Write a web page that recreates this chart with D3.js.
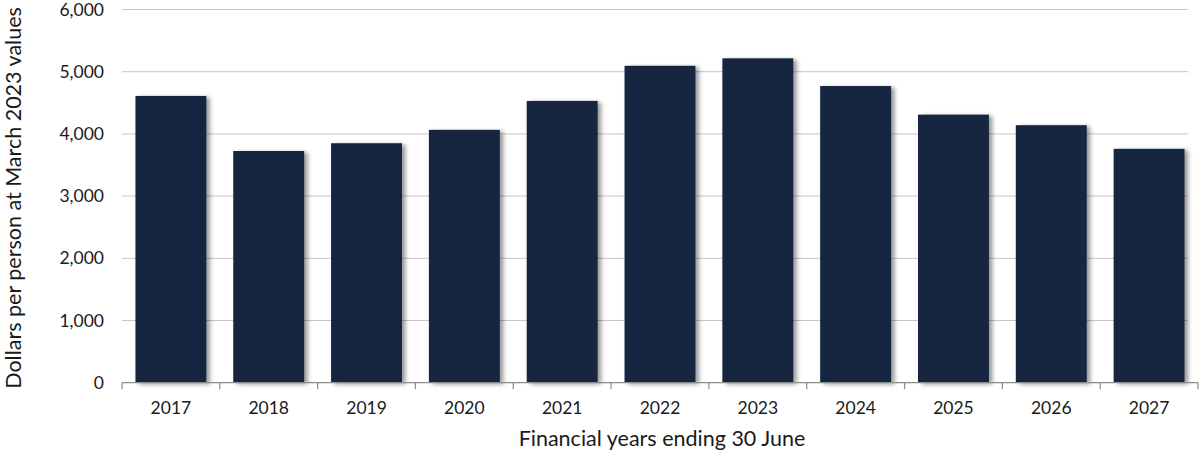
<!DOCTYPE html>
<html>
<head>
<meta charset="utf-8">
<script src="https://cdn.jsdelivr.net/npm/d3@7"></script>
<style>
  html, body { margin: 0; padding: 0; background: #fff; }
  svg { display: block; font-family: Lato, "Open Sans", sans-serif; }
</style>
</head>
<body>
<svg id="chart" width="1202" height="453"></svg>
<script>
// Spending per person, financial years ending 30 June
const years = ["2017", "2018", "2019", "2020", "2021", "2022", "2023", "2024", "2025", "2026", "2027"];
const dollarsPerPerson = [4610, 3725, 3850, 4065, 4530, 5095, 5215, 4770, 4310, 4140, 3760];
const yTicks = [0, 1000, 2000, 3000, 4000, 5000, 6000];

const svg = d3.select("#chart");
const W = 1202;
const x0 = 122, x1 = W - 4;
const yTop = 9.5, yBottom = 382.7;

const x = d3.scaleBand().domain(years).range([x0, x1]).paddingInner(0.275).paddingOuter(0.1375);
const y = d3.scaleLinear().domain([0, 6000]).range([yBottom, yTop]);

// soft shadow falling to the right of each bar
const defs = svg.append("defs");
const f = defs.append("filter").attr("id", "shadow")
  .attr("x", "-20%").attr("y", "-20%").attr("width", "150%").attr("height", "150%");
f.append("feDropShadow").attr("dx", 3.5).attr("dy", 1.5).attr("stdDeviation", 2)
  .attr("flood-color", "#000").attr("flood-opacity", 0.4);

// gridlines
svg.append("g").selectAll("line").data(yTicks.filter(d => d > 0)).join("line")
  .attr("x1", x0).attr("x2", 1188)
  .attr("y1", d => y(d)).attr("y2", d => y(d))
  .attr("stroke", "#c6c6c6").attr("stroke-width", 1);

// y tick labels
const yAxis = d3.axisLeft(y).tickValues(yTicks).tickFormat(d3.format(",")).tickSize(0).tickPadding(0);
const gy = svg.append("g").attr("transform", `translate(104,0)`).call(yAxis);
gy.select(".domain").remove();
gy.selectAll("text").attr("font-size", 17.5).attr("fill", "#1a1a1a").attr("font-family", "Lato, 'Open Sans', sans-serif");

// bars
svg.append("g").selectAll("rect").data(years).join("rect")
  .attr("x", d => x(d))
  .attr("width", x.bandwidth())
  .attr("y", (d, i) => y(dollarsPerPerson[i]))
  .attr("height", (d, i) => y(0) - y(dollarsPerPerson[i]))
  .attr("fill", "#13253f")
  .attr("filter", "url(#shadow)");

// x axis with ticks at the band boundaries
const xAxisG = svg.append("g").attr("transform", `translate(0,${yBottom})`);
xAxisG.append("line").attr("x1", x0).attr("x2", x1).attr("y1", 0).attr("y2", 0)
  .attr("stroke", "#8c8c8c").attr("stroke-width", 1.2);
const step = x.step();
const boundaries = d3.range(years.length + 1).map(i => x0 + i * step);
xAxisG.selectAll("line.tk").data(boundaries).join("line").attr("class", "tk")
  .attr("x1", d => d).attr("x2", d => d).attr("y1", 0).attr("y2", 6.5)
  .attr("stroke", "#8c8c8c").attr("stroke-width", 1.2);
xAxisG.selectAll("text").data(years).join("text")
  .attr("x", d => x(d) + x.bandwidth() / 2)
  .attr("y", 26.5)
  .attr("text-anchor", "middle").attr("dominant-baseline", "middle")
  .attr("font-size", 17.5).attr("fill", "#1a1a1a")
  .text(d => d);

// axis titles
svg.append("text")
  .attr("x", 662).attr("y", 441)
  .attr("text-anchor", "middle").attr("dominant-baseline", "middle")
  .attr("font-size", 21.5).attr("fill", "#1a1a1a")
  .text("Financial years ending 30 June");

svg.append("text")
  .attr("transform", `translate(16,198) rotate(-90)`)
  .attr("text-anchor", "middle").attr("dominant-baseline", "middle")
  .attr("font-size", 21.5).attr("fill", "#1a1a1a")
  .text("Dollars per person at March 2023 values");
</script>
</body>
</html>
